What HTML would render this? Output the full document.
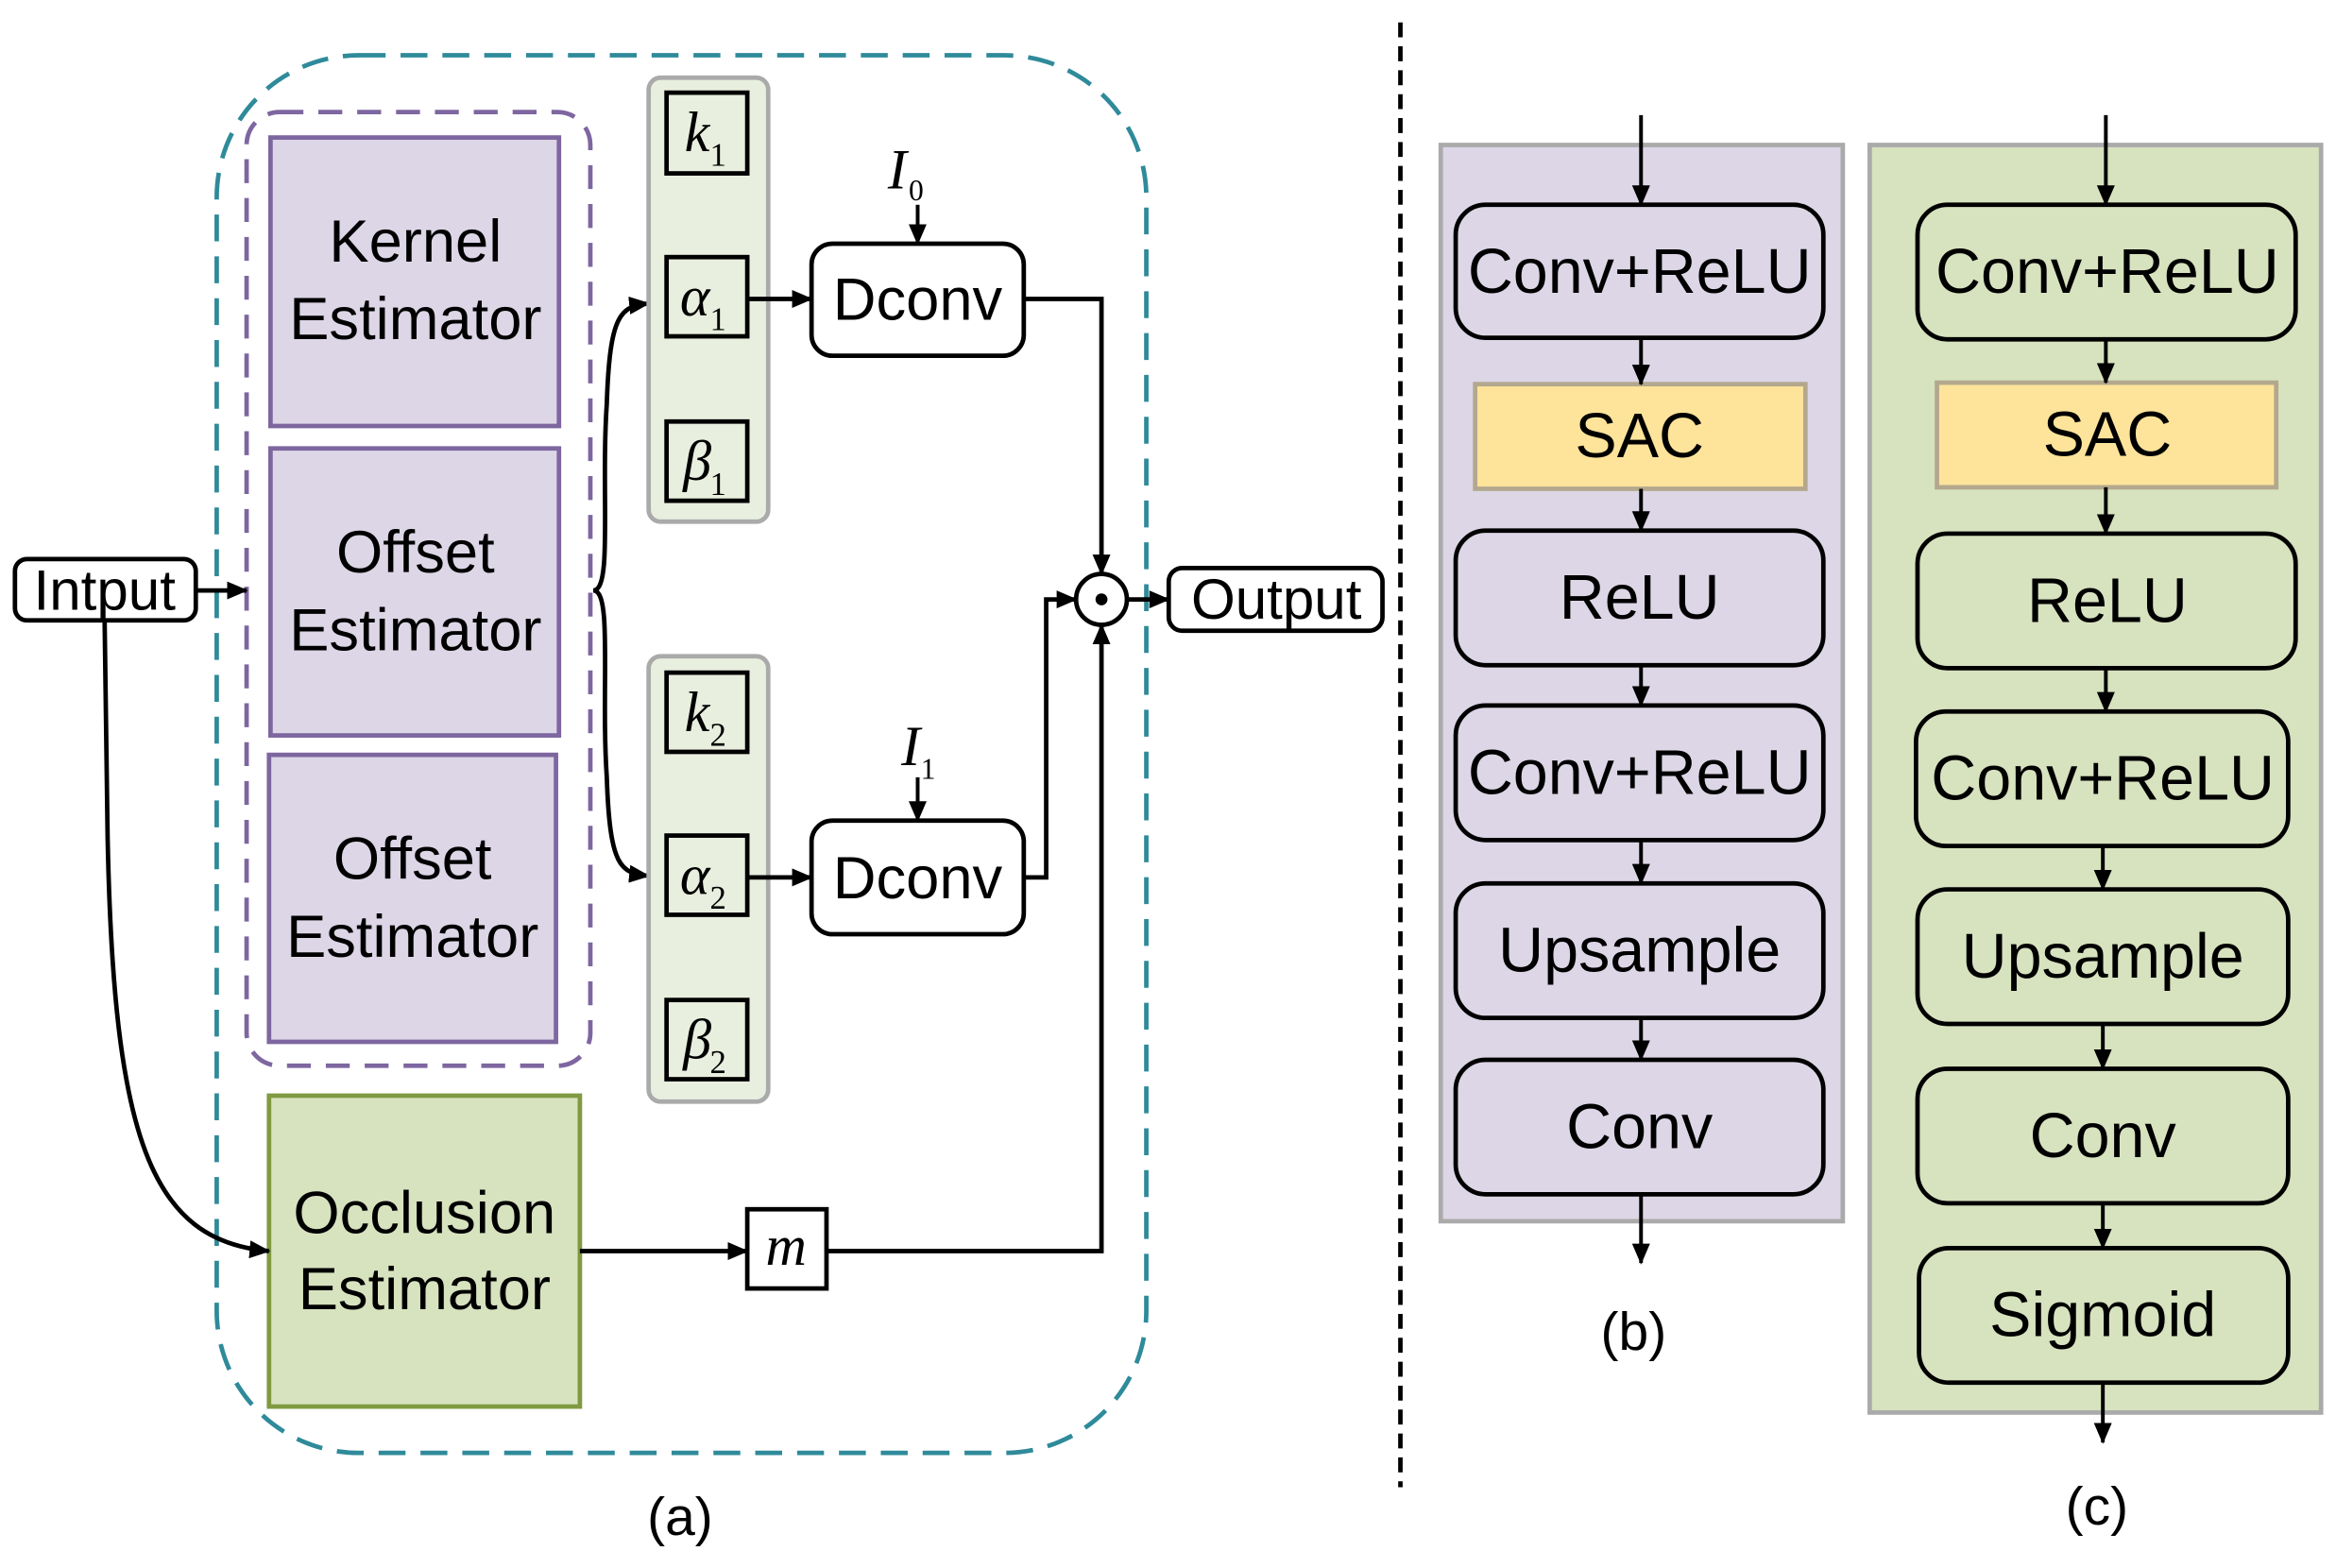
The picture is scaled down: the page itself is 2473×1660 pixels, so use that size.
<!DOCTYPE html>
<html><head><meta charset="utf-8"><style>
html,body{margin:0;padding:0;background:#fff;}
svg{display:block;}
text{font-family:"Liberation Sans",Arial,sans-serif;fill:#000;}
.m{font-family:"Liberation Serif",serif;font-style:italic;}
.s{font-family:"Liberation Serif",serif;font-style:normal;}
</style></head><body>
<svg width="2473" height="1660" viewBox="0 0 1563 1049" preserveAspectRatio="none" xmlns="http://www.w3.org/2000/svg">
<defs>
<marker id="a" markerWidth="14" markerHeight="12" refX="13" refY="6" orient="auto" markerUnits="userSpaceOnUse"><path d="M0,0 L14,6 L0,12 z" fill="#000"/></marker>
</defs>

<rect x="145" y="37" width="622" height="935" rx="95" fill="none" stroke="#2f8a9a" stroke-width="3" stroke-dasharray="18,10"/>
<rect x="165" y="75" width="230" height="638" rx="22" fill="none" stroke="#7e66a0" stroke-width="3" stroke-dasharray="16,10"/>

<rect x="181" y="92" width="193" height="193" fill="#dcd6e6" stroke="#7e66a0" stroke-width="3"/>
<text x="278" y="175" font-size="40" text-anchor="middle">Kernel</text>
<text x="278" y="227" font-size="40" text-anchor="middle">Estimator</text>
<rect x="181" y="300" width="193" height="192" fill="#dcd6e6" stroke="#7e66a0" stroke-width="3"/>
<text x="278" y="383" font-size="40" text-anchor="middle">Offset</text>
<text x="278" y="435" font-size="40" text-anchor="middle">Estimator</text>
<rect x="180" y="505" width="192" height="192" fill="#dcd6e6" stroke="#7e66a0" stroke-width="3"/>
<text x="276" y="588" font-size="40" text-anchor="middle">Offset</text>
<text x="276" y="640" font-size="40" text-anchor="middle">Estimator</text>
<rect x="180" y="733" width="208" height="208" fill="#d7e2bf" stroke="#7f9a40" stroke-width="3"/>
<text x="284" y="825" font-size="40" text-anchor="middle">Occlusion</text>
<text x="284" y="876" font-size="40" text-anchor="middle">Estimator</text>

<rect x="10" y="374" width="121" height="41" rx="8" fill="#fff" stroke="#000" stroke-width="3"/>
<text x="70" y="408" font-size="38" text-anchor="middle">Intput</text>
<line x1="131" y1="395" x2="165" y2="395" stroke="#000" stroke-width="3" marker-end="url(#a)"/>
<path d="M70,415 L72,560 C76,760 100,830 180,837" fill="none" stroke="#000" stroke-width="3" marker-end="url(#a)"/>

<path d="M397,395 C410,395 402,330 406,270 C408,210 415,205 434,203" fill="none" stroke="#000" stroke-width="3" marker-end="url(#a)"/>
<path d="M397,395 C410,395 402,460 406,520 C408,580 415,584 434,586" fill="none" stroke="#000" stroke-width="3" marker-end="url(#a)"/>

<rect x="434" y="52" width="80" height="297" rx="8" fill="#e9efdf" stroke="#aaa" stroke-width="3"/>
<rect x="434" y="439" width="80" height="298" rx="8" fill="#e9efdf" stroke="#aaa" stroke-width="3"/>
<g fill="none" stroke="#000" stroke-width="3">
<rect x="446" y="62" width="54" height="54"/>
<rect x="446" y="172" width="54" height="53"/>
<rect x="446" y="282" width="54" height="53"/>
<rect x="446" y="450" width="54" height="53"/>
<rect x="446" y="559" width="54" height="53"/>
<rect x="446" y="669" width="54" height="53"/>
<rect x="500" y="809" width="53" height="53" fill="#fff"/>
</g>
<text x="458" y="101" font-size="38" class="m">k</text><text x="475" y="111" font-size="22" class="s">1</text>
<text x="455" y="211" font-size="38" class="m">α</text><text x="475" y="221" font-size="22" class="s">1</text>
<text x="457" y="321" font-size="38" class="m">β</text><text x="475" y="331" font-size="22" class="s">1</text>
<text x="458" y="489" font-size="38" class="m">k</text><text x="475" y="499" font-size="22" class="s">2</text>
<text x="455" y="598" font-size="38" class="m">α</text><text x="475" y="608" font-size="22" class="s">2</text>
<text x="457" y="708" font-size="38" class="m">β</text><text x="475" y="718" font-size="22" class="s">2</text>
<text x="526" y="846" font-size="38" class="m" text-anchor="middle">m</text>

<rect x="543" y="163" width="142" height="75" rx="14" fill="#fff" stroke="#000" stroke-width="3"/>
<text x="614" y="214" font-size="40" text-anchor="middle">Dconv</text>
<rect x="543" y="549" width="142" height="76" rx="14" fill="#fff" stroke="#000" stroke-width="3"/>
<text x="614" y="601" font-size="40" text-anchor="middle">Dconv</text>
<text x="594" y="126" font-size="38" class="m">I</text><text x="608" y="134" font-size="20" class="s">0</text>
<text x="603" y="512" font-size="38" class="m">I</text><text x="616" y="521" font-size="20" class="s">1</text>
<g stroke="#000" stroke-width="2.5" fill="none">
<line x1="614" y1="137" x2="614" y2="163" marker-end="url(#a)"/>
<line x1="614" y1="520" x2="614" y2="549" marker-end="url(#a)"/>
</g>
<g stroke="#000" stroke-width="3" fill="none">
<line x1="500" y1="200" x2="543" y2="200" marker-end="url(#a)"/>
<line x1="500" y1="587" x2="543" y2="587" marker-end="url(#a)"/>
<polyline points="685,200 737,200 737,384" marker-end="url(#a)"/>
<polyline points="685,587 700,587 700,401 720,401" marker-end="url(#a)"/>
<line x1="388" y1="837" x2="500" y2="837" marker-end="url(#a)"/>
<polyline points="553,837 737,837 737,418" marker-end="url(#a)"/>
<circle cx="737" cy="401" r="17" fill="#fff"/>
<line x1="754" y1="401" x2="782" y2="401" marker-end="url(#a)"/>
</g>
<circle cx="737" cy="401" r="4" fill="#000"/>
<rect x="782" y="380" width="143" height="42" rx="9" fill="#fff" stroke="#000" stroke-width="3"/>
<text x="854" y="414" font-size="38" text-anchor="middle">Output</text>
<text x="455" y="1027" font-size="36" text-anchor="middle">(a)</text>

<line x1="937" y1="15" x2="937" y2="995" stroke="#000" stroke-width="3" stroke-dasharray="10,6"/>

<rect x="964" y="97" width="269" height="720" fill="#dcd6e6" stroke="#aaa" stroke-width="3"/>
<g fill="#dcd6e6" stroke="#000" stroke-width="3">
<rect x="974" y="137" width="246" height="89" rx="20"/>
<rect x="974" y="355" width="246" height="90" rx="20"/>
<rect x="974" y="472" width="246" height="90" rx="20"/>
<rect x="974" y="591" width="246" height="90" rx="20"/>
<rect x="974" y="709" width="246" height="90" rx="20"/>
</g>
<rect x="987" y="257" width="221" height="70" fill="#fde49a" stroke="#b3a88e" stroke-width="3"/>
<g font-size="42" text-anchor="middle">
<text x="1097" y="196">Conv+ReLU</text>
<text x="1097" y="306">SAC</text>
<text x="1097" y="414">ReLU</text>
<text x="1097" y="531">Conv+ReLU</text>
<text x="1097" y="650">Upsample</text>
<text x="1097" y="768">Conv</text>
</g>
<g stroke="#000" stroke-width="2.5" fill="none">
<line x1="1098" y1="77" x2="1098" y2="137" marker-end="url(#a)"/>
<line x1="1098" y1="226" x2="1098" y2="257" marker-end="url(#a)"/>
<line x1="1098" y1="327" x2="1098" y2="355" marker-end="url(#a)"/>
<line x1="1098" y1="445" x2="1098" y2="472" marker-end="url(#a)"/>
<line x1="1098" y1="562" x2="1098" y2="591" marker-end="url(#a)"/>
<line x1="1098" y1="681" x2="1098" y2="709" marker-end="url(#a)"/>
<line x1="1098" y1="799" x2="1098" y2="845" marker-end="url(#a)"/>
</g>
<text x="1093" y="903" font-size="36" text-anchor="middle">(b)</text>

<rect x="1251" y="97" width="302" height="848" fill="#d7e2bf" stroke="#aaa" stroke-width="3"/>
<g fill="#d7e2bf" stroke="#000" stroke-width="3">
<rect x="1283" y="137" width="253" height="90" rx="20"/>
<rect x="1283" y="357" width="253" height="90" rx="20"/>
<rect x="1282" y="476" width="249" height="90" rx="20"/>
<rect x="1283" y="595" width="248" height="90" rx="20"/>
<rect x="1283" y="715" width="248" height="90" rx="20"/>
<rect x="1284" y="835" width="247" height="90" rx="20"/>
</g>
<rect x="1296" y="256" width="227" height="70" fill="#fde49a" stroke="#b3a88e" stroke-width="3"/>
<g font-size="42" text-anchor="middle">
<text x="1410" y="196">Conv+ReLU</text>
<text x="1410" y="305">SAC</text>
<text x="1410" y="416">ReLU</text>
<text x="1407" y="535">Conv+ReLU</text>
<text x="1407" y="654">Upsample</text>
<text x="1407" y="774">Conv</text>
<text x="1407" y="894">Sigmoid</text>
</g>
<g stroke="#000" stroke-width="2.5" fill="none">
<line x1="1409" y1="77" x2="1409" y2="137" marker-end="url(#a)"/>
<line x1="1409" y1="227" x2="1409" y2="256" marker-end="url(#a)"/>
<line x1="1409" y1="326" x2="1409" y2="357" marker-end="url(#a)"/>
<line x1="1409" y1="447" x2="1409" y2="476" marker-end="url(#a)"/>
<line x1="1407" y1="566" x2="1407" y2="595" marker-end="url(#a)"/>
<line x1="1407" y1="685" x2="1407" y2="715" marker-end="url(#a)"/>
<line x1="1407" y1="805" x2="1407" y2="835" marker-end="url(#a)"/>
<line x1="1407" y1="925" x2="1407" y2="965" marker-end="url(#a)"/>
</g>
<text x="1403" y="1020" font-size="36" text-anchor="middle">(c)</text>
</svg>
</body></html>
